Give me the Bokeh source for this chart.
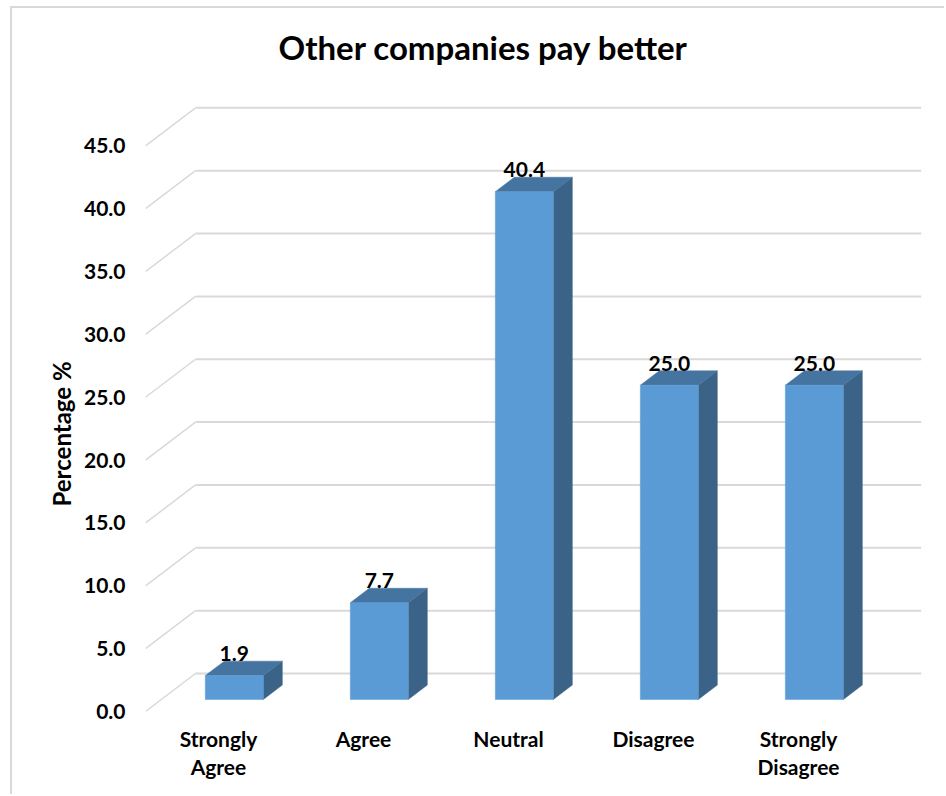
from bokeh.plotting import figure
from bokeh.models import (ColumnDataSource, FixedTicker, PrintfTickFormatter,
                          LinearAxis, Range1d, Title)
from bokeh.core.properties import value
from bokeh.embed import file_html
from bokeh.resources import INLINE

# ---------------- data ----------------
categories = ["Strongly Agree", "Agree", "Neutral", "Disagree", "Strongly Disagree"]
category_labels = ["Strongly\nAgree", "Agree", "Neutral", "Disagree", "Strongly\nDisagree"]
percentages = [1.9, 7.7, 40.4, 25.0, 25.0]
y_ticks = [0, 5, 10, 15, 20, 25, 30, 35, 40, 45]
title_text = "Other companies pay better"
y_title = "Percentage %"

# ---------------- style / geometry ----------------
FONT = "Lato"
FRONT_COL = "#5B9BD5"
TOP_COL = "#4674A1"
SIDE_COL = "#3A6387"
GRID_COL = "#D9D9D9"

X0, X1 = -0.5034, 4.848
Y0, Y1 = 0.0, 50.36
DX = 50 / 145.0       # wall depth in x units
DY = 38 / 12.57       # wall depth in y units
front_off = 0.316     # bar front plane position (fraction of depth)
bar_depth = 0.38      # bar depth (fraction of depth)
half_w = 0.2

p = figure(width=934, height=788, output_backend="svg", toolbar_location=None,
           x_range=Range1d(X0, X1), y_range=Range1d(Y0, Y1),
           x_axis_type=None, y_axis_type=None,
           min_border_left=133, min_border_right=25,
           min_border_top=70, min_border_bottom=85)
p.outline_line_color = None
p.background_fill_color = "white"
p.border_fill_color = "white"
# chart-area border (left / top edges visible in the reference)
p.styles = {"margin-left": "10px", "margin-top": "6px",
            "border-left": "2px solid #D9D9D9", "border-top": "2px solid #D9D9D9"}

# title
p.title.text = title_text
p.title.align = "left"
p.title.offset = 133
p.title.text_font = FONT
p.title.text_font_size = "33px"
p.title.text_font_style = "bold"
p.title.text_color = "black"
p.title.standoff = 24

# ---------------- gridlines (wall + back) ----------------
diag_xs = [[X0, X0 + DX] for v in y_ticks]
diag_ys = [[v, v + DY] for v in y_ticks]
back_xs = [[X0 + DX, X1] for v in y_ticks]
back_ys = [[v + DY, v + DY] for v in y_ticks]
p.multi_line(diag_xs, diag_ys, line_color=GRID_COL, line_width=1.5)
p.multi_line(back_xs, back_ys, line_color=GRID_COL, line_width=2)

# ---------------- bars ----------------
bx = front_off * DX
by = front_off * DY
ddx = bar_depth * DX
ddy = bar_depth * DY

fx, fy, tx, ty, sx, sy = [], [], [], [], [], []
lx, ly, lt = [], [], []
for i, v in enumerate(percentages):
    L = i + bx - half_w
    R = i + bx + half_w
    B = by
    T = v + by
    fx.append([L, R, R, L]); fy.append([B, B, T, T])
    tx.append([L, R, R + ddx, L + ddx]); ty.append([T, T, T + ddy, T + ddy])
    sx.append([R, R + ddx, R + ddx, R]); sy.append([B, B + ddy, T + ddy, T])
    lx.append(i + bx)
    ly.append(T + ddy + 0.6)
    lt.append(f"{v:.1f}")

p.patches(sx, sy, fill_color=SIDE_COL, line_color=SIDE_COL, line_width=0.5)
p.patches(tx, ty, fill_color=TOP_COL, line_color=TOP_COL, line_width=0.5)
p.patches(fx, fy, fill_color=FRONT_COL, line_color=FRONT_COL, line_width=0.5)

src = ColumnDataSource(dict(x=lx, y=ly, t=lt))
p.text(x="x", y="y", text="t", source=src, text_font=value(FONT),
       text_font_size="21px", text_font_style="bold", text_color="black",
       text_align="center", text_baseline="alphabetic")

# ---------------- axes ----------------
yax = LinearAxis(ticker=FixedTicker(ticks=y_ticks),
                 formatter=PrintfTickFormatter(format="%.1f"))
yax.axis_line_color = None
yax.major_tick_line_color = None
yax.minor_tick_line_color = None
yax.major_tick_out = 0
yax.major_tick_in = 0
yax.major_label_standoff = 20
yax.major_label_text_font = FONT
yax.major_label_text_font_size = "21px"
yax.major_label_text_font_style = "bold"
yax.major_label_text_color = "black"
p.add_layout(yax, "left")

# y-axis title (placed lower than the frame centre, as in the reference)
ytitle = Title(text=y_title, align="left", offset=205, standoff=10,
               text_font=FONT, text_font_size="24px", text_font_style="bold",
               text_color="black")
p.add_layout(ytitle, "left")

xax = LinearAxis(ticker=FixedTicker(ticks=list(range(len(categories)))))
xax.major_label_overrides = {i: lab for i, lab in enumerate(category_labels)}
xax.axis_line_color = None
xax.major_tick_line_color = None
xax.minor_tick_line_color = None
xax.major_tick_out = 0
xax.major_tick_in = 0
xax.major_label_standoff = 14
xax.major_label_text_font = FONT
xax.major_label_text_font_size = "21px"
xax.major_label_text_font_style = "bold"
xax.major_label_text_color = "black"
xax.major_label_text_line_height = 1.12
p.add_layout(xax, "below")

open("out.html", "w").write(file_html(p, INLINE))
